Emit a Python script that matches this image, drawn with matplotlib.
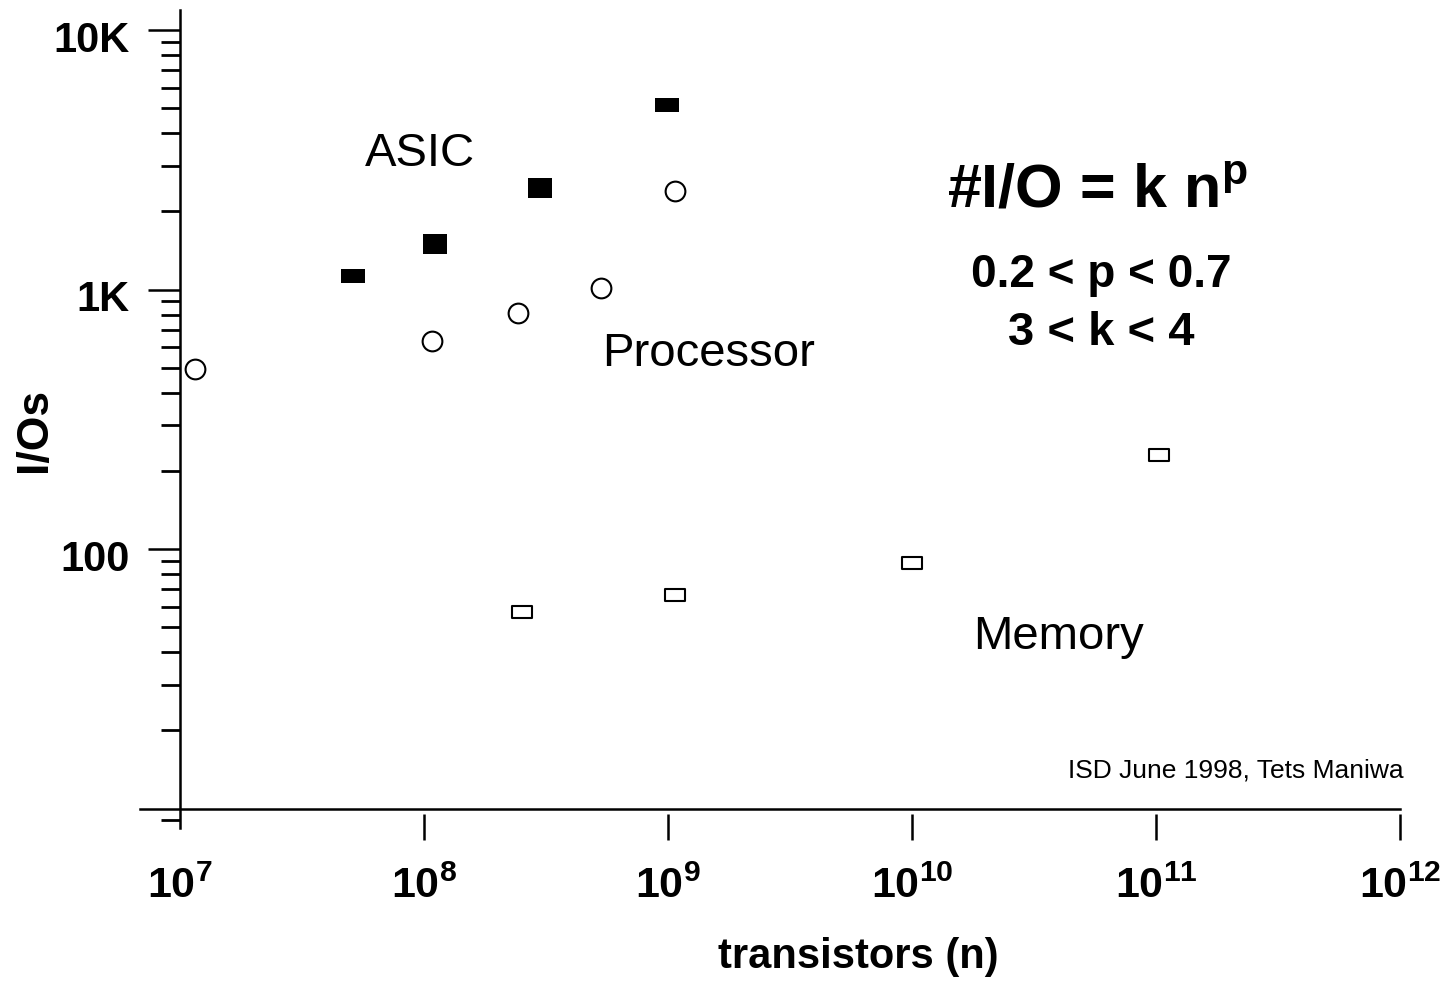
import matplotlib
matplotlib.use("Agg")
import matplotlib.pyplot as plt
import matplotlib.transforms as mtransforms
from matplotlib.path import Path
from matplotlib.ticker import FixedLocator, LogLocator, NullFormatter

plt.rcParams["font.family"] = ["Liberation Sans", "DejaVu Sans"]
plt.rcParams["mathtext.fontset"] = "custom"
plt.rcParams["mathtext.rm"] = "Liberation Sans:bold"
plt.rcParams["mathtext.bf"] = "Liberation Sans:bold"

# data (transistor count n, number of I/Os)
asic_n = [5.1e7, 1.11e8, 3.0e8, 9.9e8]
asic_io = [1130, 1500, 2460, 5120]

proc_n = [1.15e7, 1.08e8, 2.43e8, 5.3e8, 1.07e9]
proc_io = [494, 633, 812, 1010, 2400]

mem_n = [2.52e8, 1.07e9, 1.0e10, 1.03e11]
mem_io = [57, 66.5, 88, 230]

x_ticks = [1e7, 1e8, 1e9, 1e10, 1e11, 1e12]
x_tick_labels = [r"$\mathbf{10^{%d}}$" % e for e in range(7, 13)]
y_ticks = [100, 1000, 10000]
y_tick_labels = ["100", "1K", "10K"]


def rect_marker(aspect):
    h = aspect
    return Path([(-1, -h), (1, -h), (1, h), (-1, h), (-1, -h)],
                [Path.MOVETO, Path.LINETO, Path.LINETO, Path.LINETO, Path.CLOSEPOLY])


fig = plt.figure(figsize=(14.48, 9.81), dpi=100)
ax = fig.add_axes([140 / 1448, 1 - 828 / 981, 1260 / 1448, 818 / 981])
ax.set_xscale("log")
ax.set_yscale("log")
ax.set_xlim(10 ** (7 - 40 / 244.1), 1e12)
ax.set_ylim(10 ** (1 - 19.5 / 259.5), 10 ** (4 + 20 / 259.5))

# markers
asic_aspect = [0.61, 0.87, 0.87, 0.63]
for n, io, a in zip(asic_n, asic_io, asic_aspect):
    ax.plot(n, io, linestyle="none", marker=rect_marker(a), markersize=16.6,
            markerfacecolor="black", markeredgewidth=0, clip_on=False)
ax.plot(proc_n, proc_io, linestyle="none", marker="o", markersize=14.2,
        markerfacecolor="white", markeredgecolor="black", markeredgewidth=1.5)
ax.plot(mem_n, mem_io, linestyle="none", marker=rect_marker(0.62), markersize=14.8,
        markerfacecolor="white", markeredgecolor="black", markeredgewidth=1.5)

# axes styling
for side in ["top", "right"]:
    ax.spines[side].set_visible(False)
ax.spines["left"].set_position(("data", 1e7))
ax.spines["left"].set_linewidth(1.8)
ax.spines["bottom"].set_position(("data", 10 ** (1 - 5 / 259.5)))
ax.spines["bottom"].set_color("none")
ax.axhline(10, color="black", linewidth=1.8, clip_on=False)

ax.xaxis.set_major_locator(FixedLocator(x_ticks))
ax.xaxis.set_minor_locator(FixedLocator([]))
ax.set_xticklabels(x_tick_labels, fontsize=31)
ax.tick_params(axis="x", which="major", direction="out", length=19, width=1.8, pad=19)
ax.xaxis.get_major_ticks()[0].tick1line.set_visible(False)

ax.yaxis.set_major_locator(FixedLocator(y_ticks))
ax.yaxis.set_minor_locator(LogLocator(base=10, subs=range(2, 10), numticks=20))
ax.yaxis.set_minor_formatter(NullFormatter())
ax.set_yticklabels(y_tick_labels, fontsize=30, fontweight="bold")
ax.tick_params(axis="y", which="major", direction="out", length=23, width=1.8, pad=13)
ax.tick_params(axis="y", which="minor", direction="out", length=14, width=2.0)
offset = mtransforms.ScaledTranslation(0, -6 / 100, fig.dpi_scale_trans)
for lbl in ax.get_yticklabels():
    lbl.set_transform(lbl.get_transform() + offset)

ax.set_xlabel("transistors (n)", fontsize=30, fontweight="bold")
ax.xaxis.set_label_coords((858 - 140) / 1260, (828 - 957) / 818)
ax.xaxis.label.set_va("center")
ax.set_ylabel("I/Os", fontsize=32, fontweight="bold")
ax.yaxis.set_label_coords((35 - 140) / 1260, (828 - 430) / 818)
ax.yaxis.label.set_va("center")

# annotations
ax.text(9.6e7, 3330, "ASIC", fontsize=34, ha="center", va="center")
ax.text(1.46e9, 563, "Processor", fontsize=34, ha="center", va="center")
ax.text(3.99e10, 46, "Memory", fontsize=34, ha="center", va="center")
ax.text(1.03e12, 14.0, "ISD June 1998, Tets Maniwa", fontsize=19, ha="right", va="center")

ax.text(0.7595, 0.758, r"#I/O = k n$^{\mathbf{p}}$", transform=ax.transAxes,
        fontsize=44, fontweight="bold", ha="center", va="baseline")
ax.text(0.7627, 0.661, "0.2 < p < 0.7", transform=ax.transAxes,
        fontsize=33, fontweight="bold", ha="center", va="baseline")
ax.text(0.7627, 0.590, "3 < k < 4", transform=ax.transAxes,
        fontsize=34, fontweight="bold", ha="center", va="baseline")

fig.savefig("out.png", dpi=100)
